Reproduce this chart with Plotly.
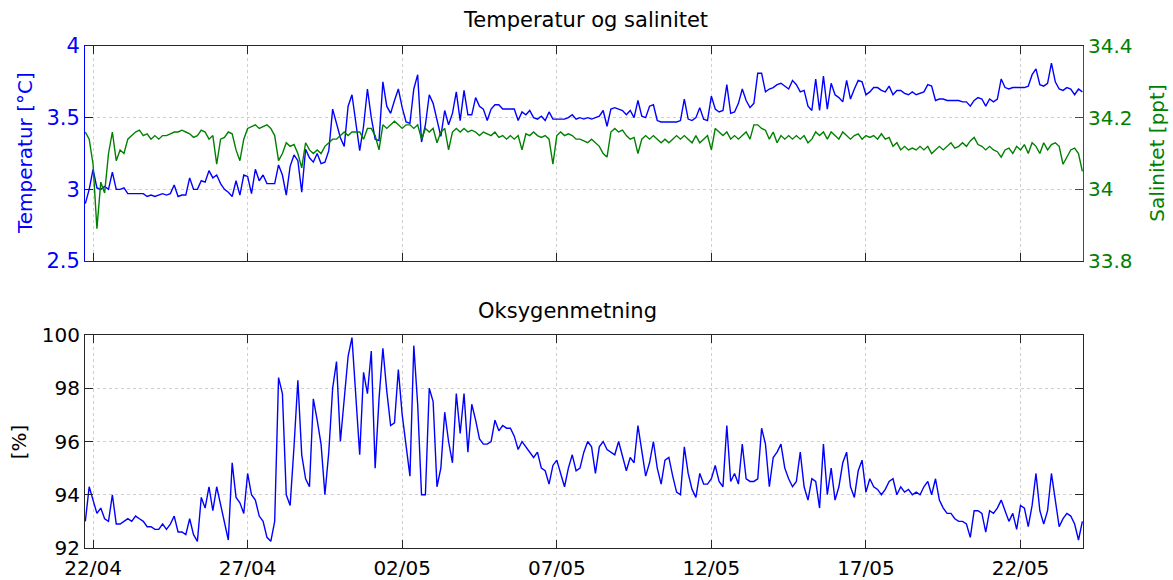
import pandas as pd
import plotly.graph_objects as go

# ---------------- data (3-hourly readings, starting 21/04 18:00) ----------------
start_time = "2012-04-21 18:00"
step = "3h"

temperature = [
    2.90, 3.00, 3.14, 3.01, 3.00, 3.02, 3.00, 3.12, 3.00, 3.00,
    3.01, 2.97, 2.97, 2.97, 2.97, 2.97, 2.95, 2.96, 2.95, 2.96,
    2.97, 2.96, 2.97, 3.03, 2.95, 2.96, 2.96, 3.08, 3.00, 3.00,
    3.06, 3.05, 3.13, 3.08, 3.10, 3.04, 3.00, 2.98, 2.95, 3.06,
    2.96, 3.10, 3.09, 2.97, 3.14, 3.06, 3.10, 3.04, 3.04, 3.04,
    3.17, 3.10, 2.96, 3.16, 3.24, 3.20, 2.98, 3.28, 3.22, 3.19,
    3.25, 3.18, 3.19, 3.27, 3.56, 3.46, 3.36, 3.30, 3.58, 3.66,
    3.45, 3.27, 3.44, 3.70, 3.50, 3.35, 3.34, 3.75, 3.58, 3.53,
    3.62, 3.70, 3.57, 3.47, 3.46, 3.70, 3.80, 3.33, 3.45, 3.66,
    3.60, 3.48, 3.37, 3.55, 3.45, 3.53, 3.68, 3.48, 3.69, 3.52,
    3.52, 3.64, 3.58, 3.56, 3.48, 3.56, 3.59, 3.59, 3.56, 3.56,
    3.56, 3.56, 3.48, 3.54, 3.52, 3.55, 3.50, 3.49, 3.51, 3.48,
    3.54, 3.49, 3.49, 3.49, 3.49, 3.50, 3.52, 3.49, 3.50, 3.49,
    3.50, 3.49, 3.50, 3.51, 3.55, 3.44, 3.56, 3.57, 3.56, 3.55,
    3.52, 3.55, 3.50, 3.62, 3.51, 3.50, 3.58, 3.59, 3.48, 3.47,
    3.47, 3.47, 3.47, 3.47, 3.48, 3.63, 3.49, 3.48, 3.50, 3.57,
    3.49, 3.48, 3.65, 3.56, 3.54, 3.55, 3.73, 3.53, 3.54, 3.60,
    3.70, 3.62, 3.57, 3.60, 3.81, 3.81, 3.68, 3.70, 3.71, 3.73,
    3.74, 3.72, 3.70, 3.76, 3.73, 3.68, 3.69, 3.58, 3.55, 3.77,
    3.55, 3.79, 3.56, 3.74, 3.66, 3.64, 3.61, 3.76, 3.63, 3.70,
    3.76, 3.75, 3.66, 3.68, 3.71, 3.71, 3.69, 3.68, 3.72, 3.66,
    3.69, 3.69, 3.67, 3.66, 3.68, 3.66, 3.67, 3.68, 3.73, 3.72,
    3.62, 3.63, 3.63, 3.62, 3.62, 3.62, 3.62, 3.61, 3.61, 3.58,
    3.62, 3.64, 3.63, 3.58, 3.63, 3.61, 3.63, 3.77, 3.71, 3.70,
    3.71, 3.71, 3.71, 3.71, 3.72, 3.80, 3.84, 3.73, 3.72, 3.74,
    3.88, 3.75, 3.70, 3.69, 3.71, 3.70, 3.66, 3.70, 3.68,
]

salinity = [
    34.16, 34.14, 34.07, 33.89, 34.02, 33.99, 34.10, 34.16, 34.08, 34.11,
    34.10, 34.14, 34.15, 34.16, 34.165, 34.15, 34.155, 34.14, 34.15, 34.14,
    34.15, 34.15, 34.155, 34.16, 34.16, 34.165, 34.16, 34.155, 34.145, 34.15,
    34.165, 34.16, 34.14, 34.15, 34.07, 34.14, 34.145, 34.16, 34.155, 34.11,
    34.08, 34.14, 34.17, 34.175, 34.18, 34.17, 34.175, 34.18, 34.17, 34.15,
    34.08, 34.10, 34.13, 34.12, 34.125, 34.10, 34.06, 34.13, 34.11, 34.10,
    34.11, 34.10, 34.12, 34.13, 34.14, 34.14, 34.15, 34.16, 34.15, 34.16,
    34.16, 34.16, 34.14, 34.17, 34.17, 34.15, 34.11, 34.18, 34.17, 34.18,
    34.19, 34.18, 34.17, 34.18, 34.18, 34.17, 34.18, 34.14, 34.17, 34.16,
    34.17, 34.13, 34.16, 34.17, 34.11, 34.16, 34.17, 34.16, 34.17, 34.16,
    34.165, 34.16, 34.15, 34.16, 34.155, 34.15, 34.16, 34.145, 34.15, 34.14,
    34.15, 34.14, 34.15, 34.11, 34.155, 34.15, 34.16, 34.15, 34.145, 34.15,
    34.14, 34.07, 34.15, 34.16, 34.15, 34.155, 34.15, 34.14, 34.14, 34.135,
    34.13, 34.14, 34.13, 34.12, 34.10, 34.09, 34.16, 34.17, 34.16, 34.165,
    34.15, 34.14, 34.145, 34.10, 34.14, 34.15, 34.14, 34.15, 34.14, 34.13,
    34.14, 34.13, 34.14, 34.15, 34.14, 34.15, 34.14, 34.13, 34.15, 34.13,
    34.14, 34.15, 34.11, 34.17, 34.16, 34.15, 34.16, 34.14, 34.15, 34.14,
    34.15, 34.16, 34.14, 34.18, 34.18, 34.17, 34.165, 34.14, 34.16, 34.13,
    34.15, 34.14, 34.15, 34.14, 34.15, 34.14, 34.15, 34.13, 34.14, 34.16,
    34.15, 34.16, 34.14, 34.16, 34.15, 34.14, 34.16, 34.15, 34.14, 34.15,
    34.155, 34.14, 34.15, 34.145, 34.15, 34.14, 34.155, 34.14, 34.145, 34.12,
    34.13, 34.11, 34.12, 34.11, 34.115, 34.11, 34.12, 34.11, 34.12, 34.10,
    34.11, 34.12, 34.11, 34.12, 34.13, 34.115, 34.12, 34.13, 34.12, 34.135,
    34.145, 34.125, 34.12, 34.11, 34.12, 34.11, 34.105, 34.09, 34.11, 34.115,
    34.10, 34.12, 34.11, 34.125, 34.10, 34.13, 34.12, 34.10, 34.13, 34.11,
    34.125, 34.13, 34.12, 34.07, 34.09, 34.11, 34.115, 34.10, 34.05,
]

oxygen = [
    93.0, 94.3, 93.8, 93.3, 93.5, 93.1, 93.0, 94.0, 92.9, 92.9,
    93.0, 93.1, 93.0, 93.2, 93.1, 93.0, 92.8, 92.8, 92.7, 92.7,
    92.9, 92.7, 92.9, 93.2, 92.6, 92.6, 92.5, 93.1, 92.5, 92.25,
    93.9, 93.5, 94.3, 93.4, 94.3, 93.6, 92.9, 92.3, 95.2, 93.9,
    93.7, 93.3, 94.8, 94.0, 93.8, 93.2, 93.0, 92.4, 92.25, 93.0,
    98.4, 97.8, 94.0, 93.6, 95.8, 98.3, 95.5, 94.6, 94.3, 97.6,
    96.8, 95.9, 94.0, 95.6, 98.0, 99.0, 96.0, 97.5, 99.2, 99.9,
    97.5, 95.5, 98.6, 97.8, 99.4, 95.0, 97.6, 99.5, 97.9, 96.6,
    96.7, 98.7, 97.0, 95.9, 94.7, 99.6, 97.4, 94.0, 94.0, 98.0,
    97.5, 94.3, 95.0, 97.1, 96.0, 95.2, 97.8, 96.3, 97.8, 95.6,
    97.4, 96.8, 96.1, 95.9, 95.9, 96.0, 96.8, 96.4, 96.6, 96.5,
    96.5, 96.2, 95.7, 96.0, 95.8, 95.6, 95.4, 95.6, 95.0, 94.9,
    94.4, 95.1, 95.3, 94.8, 94.3, 95.0, 95.5, 94.9, 95.0, 95.6,
    96.0, 95.8, 94.8, 95.8, 96.0, 95.7, 95.6, 95.5, 96.0, 95.5,
    94.9, 95.4, 95.2, 96.6, 95.7, 94.7, 95.2, 96.0, 95.0, 94.4,
    95.3, 95.4, 94.7, 94.1, 94.0, 95.8, 94.8, 94.2, 93.9, 94.8,
    94.4, 94.4, 94.6, 95.1, 94.5, 94.3, 96.6, 94.5, 94.8, 94.4,
    95.9, 94.6, 94.5, 94.5, 94.6, 96.5, 95.9, 94.3, 95.4, 95.6,
    95.9, 95.0, 94.6, 94.3, 94.5, 95.6, 94.3, 93.8, 94.6, 94.5,
    93.5, 95.9, 94.0, 95.0, 93.8, 94.3, 95.2, 95.6, 94.3, 93.9,
    94.9, 95.3, 94.1, 94.6, 94.3, 94.2, 94.0, 94.2, 94.5, 94.6,
    94.0, 94.3, 94.1, 94.2, 94.0, 94.1, 94.0, 94.3, 94.5, 94.0,
    94.6, 93.8, 93.5, 93.3, 93.3, 93.1, 93.0, 93.0, 92.9, 92.4,
    93.4, 93.4, 93.3, 92.6, 93.4, 93.3, 93.5, 93.8, 93.4, 93.0,
    93.3, 92.7, 93.6, 93.5, 92.8, 93.6, 94.8, 93.4, 92.9, 93.4,
    94.8, 93.8, 92.8, 93.1, 93.3, 93.2, 92.9, 92.3, 93.0,
]

tick_dates = ["2012-04-22", "2012-04-27", "2012-05-02", "2012-05-07",
              "2012-05-12", "2012-05-17", "2012-05-22"]
tick_labels = ["22/04", "27/04", "02/05", "07/05", "12/05", "17/05", "22/05"]
x_range = ["2012-04-21 17:45", "2012-05-24 00:30"]

temp_ticks = [2.5, 3, 3.5, 4]
temp_ticklabels = ["2.5", "3", "3.5", "4"]
sal_ticks = [33.8, 34.0, 34.2, 34.4]
sal_ticklabels = ["33.8", "34", "34.2", "34.4"]
oxy_ticks = [92, 94, 96, 98, 100]

times = pd.date_range(start_time, periods=len(temperature), freq=step)

# ---------------- styling ----------------
BLUE = "#0000FF"
GREEN = "#008000"
DARK = "#262626"
GRID = "#cfcfcf"
FONT = "DejaVu Sans"

fig = go.Figure()
fig.add_trace(go.Scatter(x=times, y=temperature, mode="lines",
                         line=dict(color=BLUE, width=1.4),
                         xaxis="x", yaxis="y", showlegend=False))
fig.add_trace(go.Scatter(x=times, y=salinity, mode="lines",
                         line=dict(color=GREEN, width=1.4),
                         xaxis="x", yaxis="y2", showlegend=False))
fig.add_trace(go.Scatter(x=times, y=oxygen, mode="lines",
                         line=dict(color=BLUE, width=1.4),
                         xaxis="x2", yaxis="y3", showlegend=False))

xcommon = dict(type="date", range=x_range, tickmode="array",
               tickvals=tick_dates, ticktext=tick_labels,
               ticks="inside", ticklen=8, tickcolor=DARK, tickwidth=1,
               showline=True, linecolor=DARK, linewidth=1, mirror="ticks",
               showgrid=True, gridcolor=GRID, griddash="dot", gridwidth=1,
               zeroline=False, domain=[0, 1],
               tickfont=dict(family=FONT, size=20, color="#000000"))

top_dom = [0.5717, 1.0]
bot_dom = [0.0, 0.4243]


def ann(text, x, y, color="#000000", angle=0, size=20):
    return dict(text=text, xref="paper", yref="paper", x=x, y=y,
                xanchor="center", yanchor="middle", showarrow=False,
                textangle=angle, font=dict(family=FONT, size=size, color=color))


fig.update_layout(
    width=1173, height=580,
    margin=dict(l=85, r=90, t=46, b=32),
    paper_bgcolor="white", plot_bgcolor="white",
    font=dict(family=FONT, size=20, color="#000000"),
    xaxis=dict(xcommon, anchor="y", showticklabels=False),
    xaxis2=dict(xcommon, anchor="y3", showticklabels=True,
                ticklabelstandoff=2, automargin=False),
    yaxis=dict(domain=top_dom, anchor="x", range=[2.5, 4],
               tickmode="array", tickvals=temp_ticks, ticktext=temp_ticklabels,
               ticks="inside", ticklen=8, tickcolor=BLUE,
               showline=True, linecolor=BLUE, linewidth=1,
               showgrid=True, gridcolor=GRID, griddash="dot", zeroline=False,
               tickfont=dict(family=FONT, size=21, color=BLUE)),
    yaxis2=dict(overlaying="y", side="right", anchor="x", range=[33.8, 34.4],
                tickmode="array", tickvals=sal_ticks, ticktext=sal_ticklabels,
                ticks="inside", ticklen=8, tickcolor=GREEN,
                showline=True, linecolor=GREEN, linewidth=1,
                showgrid=False, zeroline=False,
                tickfont=dict(family=FONT, size=20, color=GREEN)),
    yaxis3=dict(domain=bot_dom, anchor="x2", range=[92, 100],
                tickmode="array", tickvals=oxy_ticks,
                ticks="inside", ticklen=8, tickcolor=DARK,
                showline=True, linecolor=DARK, linewidth=1, mirror="ticks",
                showgrid=True, gridcolor=GRID, griddash="dot", zeroline=False,
                tickfont=dict(family=FONT, size=20, color="#000000")),
    annotations=[
        ann("Temperatur og salinitet", 0.502, 1.052, size=21),
        ann("Oksygenmetning", 0.483, 0.472, size=21),
        ann("Temperatur [°C]", -0.060, 0.787, color=BLUE, angle=-90),
        ann("Salinitet [ppt]", 1.074, 0.787, color=GREEN, angle=-90),
        ann("[%]", -0.066, 0.211, angle=-90),
    ],
)

fig.write_html("out.html")
